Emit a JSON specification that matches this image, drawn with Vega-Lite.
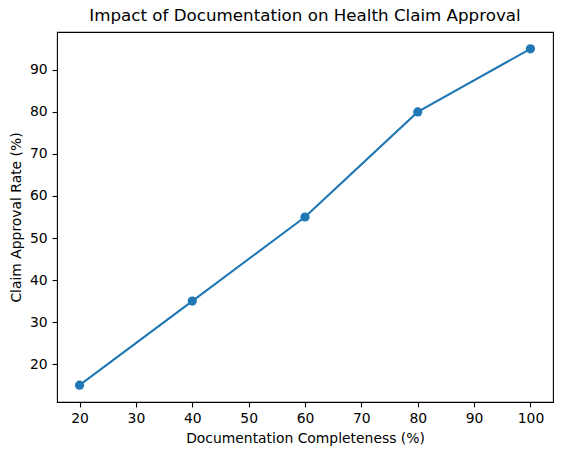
{
  "$schema": "https://vega.github.io/schema/vega-lite/v6.json",
  "width": 496,
  "height": 370,
  "autosize": "none",
  "padding": {"left": 57, "top": 32, "right": 9, "bottom": 53},
  "background": "white",
  "title": {
    "text": "Impact of Documentation on Health Claim Approval",
    "font": "DejaVu Sans",
    "fontSize": 16.7,
    "fontWeight": "normal",
    "color": "black",
    "offset": 7
  },
  "config": {
    "view": {"stroke": "black", "strokeWidth": 1.1},
    "axis": {
      "domain": false,
      "grid": false,
      "tickColor": "black",
      "tickSize": 4.9,
      "tickWidth": 1.1,
      "labelPadding": 4.9,
      "labelFont": "DejaVu Sans",
      "labelFontSize": 13.9,
      "labelColor": "black",
      "titleFont": "DejaVu Sans",
      "titleFontSize": 13.9,
      "titleFontWeight": "normal",
      "titleColor": "black",
      "titlePadding": 5.6
    }
  },
  "data": {
    "values": [
      {"completeness": 20, "approval": 15},
      {"completeness": 40, "approval": 35},
      {"completeness": 60, "approval": 55},
      {"completeness": 80, "approval": 80},
      {"completeness": 100, "approval": 95}
    ]
  },
  "encoding": {
    "x": {
      "field": "completeness",
      "type": "quantitative",
      "title": "Documentation Completeness (%)",
      "scale": {"domain": [16, 104], "nice": false, "zero": false},
      "axis": {"values": [20, 30, 40, 50, 60, 70, 80, 90, 100]}
    },
    "y": {
      "field": "approval",
      "type": "quantitative",
      "title": "Claim Approval Rate (%)",
      "scale": {"domain": [11, 99], "nice": false, "zero": false},
      "axis": {"values": [20, 30, 40, 50, 60, 70, 80, 90]}
    }
  },
  "layer": [
    {"mark": {"type": "line", "color": "#1f77b4", "strokeWidth": 2.1}},
    {"mark": {"type": "point", "shape": "circle", "filled": true, "color": "#1f77b4", "opacity": 1, "size": 85}}
  ]
}
